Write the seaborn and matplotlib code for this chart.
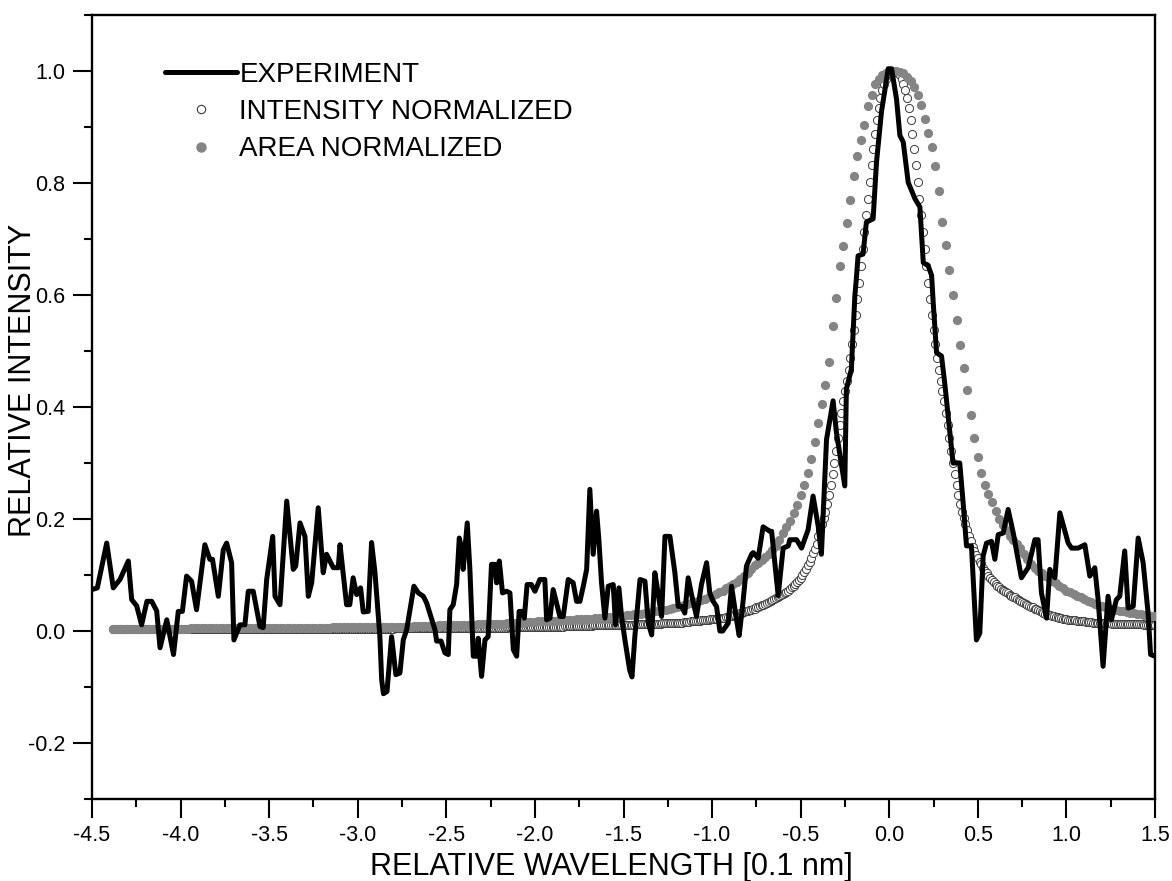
import numpy as np
import pandas as pd
import matplotlib
matplotlib.use("Agg")
import matplotlib.pyplot as plt
import seaborn as sns
from matplotlib.lines import Line2D
from matplotlib.ticker import MultipleLocator, FormatStrFormatter

# ---------------- data ----------------
EXP_X = [-4.50, -4.47, -4.417, -4.38, -4.342, -4.295, -4.276, -4.248, -4.22, -4.19,
         -4.163, -4.135, -4.116, -4.078, -4.04, -4.013, -3.99, -3.966, -3.938, -3.91,
         -3.863, -3.835, -3.82, -3.787, -3.759, -3.74, -3.712, -3.699, -3.665, -3.637,
         -3.618, -3.59, -3.552, -3.534, -3.514, -3.48, -3.467, -3.439, -3.401, -3.364,
         -3.35, -3.326, -3.298, -3.279, -3.26, -3.223, -3.195, -3.176, -3.138, -3.11,
         -3.10, -3.063, -3.045, -3.026, -3.006, -2.984, -2.969, -2.941, -2.922, -2.903,
         -2.875, -2.865, -2.855, -2.835, -2.809, -2.785, -2.762, -2.743, -2.724, -2.705,
         -2.683, -2.658, -2.63, -2.611, -2.564, -2.555, -2.53, -2.508, -2.489, -2.48,
         -2.461, -2.442, -2.427, -2.414, -2.405, -2.382, -2.367, -2.348, -2.33, -2.32,
         -2.301, -2.282, -2.264, -2.245, -2.226, -2.216, -2.201, -2.183, -2.16, -2.141,
         -2.122, -2.103, -2.089, -2.07, -2.06, -2.044, -2.02, -2.00, -1.972, -1.944,
         -1.934, -1.915, -1.897, -1.859, -1.84, -1.812, -1.784, -1.765, -1.746, -1.727,
         -1.708, -1.69, -1.671, -1.652, -1.639, -1.624, -1.605, -1.586, -1.558, -1.545,
         -1.526, -1.511, -1.49, -1.465, -1.452, -1.436, -1.407, -1.379, -1.36, -1.341,
         -1.323, -1.308, -1.285, -1.266, -1.238, -1.21, -1.191, -1.172, -1.154, -1.135,
         -1.116, -1.088, -1.06, -1.031, -1.013, -0.994, -0.975, -0.956, -0.94, -0.909,
         -0.89, -0.862, -0.847, -0.824, -0.806, -0.777, -0.768, -0.74, -0.712, -0.674,
         -0.664, -0.627, -0.599, -0.57, -0.561, -0.523, -0.495, -0.458, -0.43, -0.401,
         -0.383, -0.354, -0.317, -0.298, -0.251, -0.242, -0.214, -0.194, -0.186, -0.176,
         -0.148, -0.129, -0.091, -0.072, -0.044, -0.006, 0.013, 0.041, 0.06, 0.079,
         0.107, 0.145, 0.173, 0.192, 0.22, 0.239, 0.248, 0.267, 0.295, 0.314,
         0.36, 0.398, 0.417, 0.436, 0.464, 0.492, 0.511, 0.53, 0.549, 0.577,
         0.596, 0.615, 0.643, 0.671, 0.70, 0.746, 0.784, 0.822, 0.84, 0.859,
         0.888, 0.906, 0.935, 0.963, 1.01, 1.029, 1.066, 1.104, 1.132, 1.16,
         1.179, 1.207, 1.235, 1.254, 1.282, 1.301, 1.329, 1.348, 1.377, 1.405,
         1.433, 1.461, 1.475, 1.50]
EXP_Y = [0.074, 0.077, 0.157, 0.077, 0.092, 0.125, 0.056, 0.045, 0.011, 0.053,
         0.053, 0.036, -0.030, 0.020, -0.042, 0.035, 0.035, 0.098, 0.089, 0.038,
         0.154, 0.128, 0.128, 0.062, 0.145, 0.157, 0.122, -0.016, 0.011, 0.011,
         0.071, 0.071, 0.008, 0.006, 0.092, 0.169, 0.062, 0.047, 0.232, 0.110,
         0.116, 0.193, 0.169, 0.062, 0.086, 0.220, 0.104, 0.137, 0.113, 0.113,
         0.154, 0.047, 0.047, 0.095, 0.065, 0.077, 0.034, 0.035, 0.158, 0.105,
         -0.010, -0.087, -0.112, -0.108, -0.010, -0.078, -0.075, -0.016, 0.002, 0.038,
         0.080, 0.068, 0.062, 0.050, 0.002, -0.018, -0.018, -0.039, -0.042, 0.038,
         0.047, 0.083, 0.166, 0.148, 0.110, 0.193, 0.110, -0.045, -0.045, -0.013,
         -0.081, -0.016, -0.010, 0.119, 0.119, 0.086, 0.125, 0.068, 0.071, 0.068,
         -0.033, -0.045, 0.035, 0.035, 0.023, 0.083, 0.083, 0.071, 0.092, 0.092,
         0.020, 0.023, 0.074, 0.026, 0.026, 0.092, 0.086, 0.053, 0.053, 0.080,
         0.110, 0.253, 0.137, 0.214, 0.163, 0.086, 0.023, 0.080, 0.083, 0.011,
         0.077, 0.026, -0.020, -0.070, -0.082, -0.010, 0.092, 0.089, 0.014, -0.007,
         0.104, 0.074, 0.026, 0.169, 0.169, 0.104, 0.044, 0.044, 0.032, 0.095,
         0.065, 0.026, 0.083, 0.122, 0.068, 0.053, 0.044, 0.000, 0.000, 0.014,
         0.080, 0.020, -0.008, 0.056, 0.116, 0.137, 0.140, 0.130, 0.186, 0.178,
         0.178, 0.063, 0.148, 0.152, 0.163, 0.163, 0.148, 0.181, 0.241, 0.187,
         0.137, 0.342, 0.411, 0.354, 0.259, 0.432, 0.467, 0.599, 0.628, 0.670,
         0.673, 0.730, 0.736, 0.837, 0.927, 1.004, 1.004, 0.950, 0.885, 0.873,
         0.801, 0.772, 0.757, 0.658, 0.652, 0.635, 0.587, 0.497, 0.491, 0.440,
         0.300, 0.300, 0.229, 0.152, 0.152, -0.016, -0.004, 0.134, 0.157, 0.160,
         0.128, 0.172, 0.175, 0.217, 0.175, 0.095, 0.113, 0.163, 0.163, 0.068,
         0.023, 0.110, 0.095, 0.211, 0.157, 0.148, 0.148, 0.154, 0.098, 0.113,
         0.056, -0.063, 0.062, 0.020, 0.056, 0.062, 0.143, 0.041, 0.044, 0.166,
         0.122, 0.032, -0.042, -0.045]

# "INTENSITY NORMALIZED" profile (open circles), sampled every 0.01
INT_Y_LEFT = ([0.003] * 64 + [0.004] * 95 + [0.005] * 38 + [0.006] * 26 +
              [0.007] * 20 + [0.008] * 12 + [0.009] * 16 + [0.010] * 14 +
              [0.011] * 10 + [0.012] * 8 + [0.013] * 7 + [0.014] * 7 +
              [0.015] * 5 + [0.016] * 4 + [0.017] * 3 + [0.018] * 3 +
              [0.019] * 2 + [0.020] * 3 + [0.021] * 3 + [0.022] * 2 +
              [0.023] * 2 + [0.024] * 2 + [0.025] * 2 +
              [0.026, 0.027, 0.028, 0.029, 0.030, 0.031, 0.032, 0.033, 0.034, 0.035,
               0.036, 0.037, 0.038, 0.039, 0.040, 0.042, 0.043, 0.044, 0.046, 0.047,
               0.049, 0.050, 0.052, 0.053, 0.055, 0.057, 0.059, 0.061, 0.062, 0.064])
INT_Y_CORE = [
    0.066, 0.068, 0.070, 0.072, 0.075, 0.078, 0.081, 0.084, 0.087, 0.091,
    0.095, 0.100, 0.105, 0.111, 0.117, 0.124, 0.131, 0.139, 0.147, 0.156,
    0.170, 0.180, 0.191, 0.201, 0.212, 0.226, 0.242, 0.260, 0.280, 0.300,
    0.322, 0.345, 0.368, 0.390, 0.410, 0.428, 0.446, 0.466, 0.488, 0.512,
    0.538, 0.564, 0.592, 0.622, 0.652, 0.682, 0.712, 0.742, 0.772, 0.802,
    0.832, 0.860, 0.887, 0.912, 0.934, 0.952, 0.966, 0.977, 0.986, 0.992,
    0.996, 0.999, 1.000, 1.000, 0.999, 0.996, 0.992, 0.986, 0.977, 0.966,
    0.952, 0.934, 0.912, 0.887, 0.860, 0.832, 0.802, 0.772, 0.742, 0.712,
    0.682, 0.652, 0.622, 0.592, 0.564, 0.538, 0.512, 0.488, 0.466, 0.446,
    0.428, 0.410, 0.390, 0.368, 0.345, 0.322, 0.300, 0.280, 0.260, 0.242,
    0.226, 0.212, 0.201, 0.191, 0.180, 0.170, 0.160, 0.150, 0.143, 0.136,
    0.130, 0.124, 0.119, 0.113, 0.108, 0.103, 0.099, 0.095, 0.091, 0.088,
    0.084, 0.081, 0.078, 0.075, 0.073, 0.071, 0.069, 0.067, 0.065, 0.063,
    0.061]
INT_Y_RIGHT = ([0.060, 0.058, 0.056, 0.054, 0.052, 0.050, 0.048, 0.046, 0.045, 0.043,
                0.042, 0.040, 0.039, 0.037, 0.036, 0.034, 0.033, 0.031, 0.030, 0.029,
                0.028, 0.027, 0.026, 0.025, 0.025, 0.024, 0.023, 0.022, 0.022, 0.021] +
               [0.020] * 3 + [0.019] * 2 + [0.018] * 2 + [0.017] * 3 + [0.016] * 4 +
               [0.015] * 4 + [0.014] * 7 + [0.013] * 8 + [0.012] * 10 + [0.011] * 7)

# "AREA NORMALIZED" profile (filled grey circles)
AREA_Y_LEFT = ([0.004] * 22 + [0.005] * 27 + [0.006] * 13 + [0.007] * 13 +
               [0.008] * 10 + [0.009] * 7 + [0.010] * 6 + [0.011] * 5 +
               [0.012] * 4 + [0.013] * 4 + [0.014] * 3 + [0.015] * 3 +
               [0.016] * 3 + [0.017] * 3 + [0.018] * 3 + [0.019] * 2 +
               [0.020] * 3 + [0.021] * 3 + [0.022] * 2 + [0.023] * 2 +
               [0.024] * 2 + [0.025] * 2 +
               [0.026, 0.027, 0.027, 0.028, 0.029, 0.030, 0.031, 0.031, 0.032, 0.033,
                0.034, 0.035, 0.036, 0.037, 0.038, 0.040, 0.041, 0.043, 0.044, 0.046,
                0.048, 0.050, 0.052, 0.054, 0.056, 0.058, 0.060])
AREA_Y_CORE = [
    0.063, 0.066, 0.069, 0.072, 0.076, 0.080, 0.084, 0.088, 0.093, 0.098,
    0.104, 0.110, 0.117, 0.121, 0.126, 0.132, 0.138, 0.145, 0.152, 0.163,
    0.175, 0.186, 0.197, 0.210, 0.225, 0.242, 0.260, 0.282, 0.308, 0.338,
    0.372, 0.405, 0.440, 0.480, 0.545, 0.595, 0.652, 0.687, 0.728, 0.770,
    0.812, 0.848, 0.876, 0.903, 0.937, 0.958, 0.976, 0.985, 0.992, 0.997,
    0.999, 1.000, 1.000, 0.999, 0.996, 0.990, 0.983, 0.972, 0.958, 0.940,
    0.915, 0.890, 0.865, 0.830, 0.785, 0.730, 0.690, 0.645, 0.600, 0.555,
    0.510, 0.470, 0.430, 0.385, 0.345, 0.310, 0.283, 0.260, 0.245, 0.230,
    0.215, 0.200, 0.190, 0.180, 0.170, 0.162]
AREA_Y_RIGHT = [
    0.155, 0.148, 0.137, 0.128, 0.120, 0.113, 0.108, 0.103, 0.098, 0.094,
    0.089, 0.085, 0.080, 0.076, 0.072, 0.069, 0.066, 0.063, 0.060, 0.057,
    0.054, 0.051, 0.048, 0.046, 0.044, 0.042, 0.040, 0.039, 0.037, 0.036,
    0.035, 0.034, 0.033, 0.032, 0.031, 0.030, 0.029, 0.028, 0.027, 0.026]

LABELS = ["EXPERIMENT", "INTENSITY NORMALIZED", "AREA NORMALIZED"]
X_TICKS = [-4.5, -4.0, -3.5, -3.0, -2.5, -2.0, -1.5, -1.0, -0.5, 0.0, 0.5, 1.0, 1.5]
Y_TICKS = [-0.2, 0.0, 0.2, 0.4, 0.6, 0.8, 1.0]

# sample positions of the two model profiles (uniform instrument grid)
int_x = np.concatenate([np.linspace(-4.38, -0.61, len(INT_Y_LEFT)),
                        np.linspace(-0.60, 0.70, len(INT_Y_CORE)),
                        np.linspace(0.71, 1.50, len(INT_Y_RIGHT))])
int_y = np.array(INT_Y_LEFT + INT_Y_CORE + INT_Y_RIGHT)
area_x = np.concatenate([np.linspace(-4.38, -1.02, len(AREA_Y_LEFT)),
                         np.linspace(-1.00, 0.70, len(AREA_Y_CORE)),
                         np.linspace(0.72, 1.50, len(AREA_Y_RIGHT))])
area_y = np.array(AREA_Y_LEFT + AREA_Y_CORE + AREA_Y_RIGHT)

# ---------------- style ----------------
sns.set_theme(style="ticks", rc={
    "axes.edgecolor": "black", "text.color": "black", "axes.labelcolor": "black",
    "xtick.color": "black", "ytick.color": "black",
})
plt.rcParams["font.family"] = ["Liberation Sans", "DejaVu Sans"]

W, H = 1172, 881
fig = plt.figure(figsize=(W / 100, H / 100), dpi=100)
L, R, T, B = 92, 1155, 15, 799
ax = fig.add_axes([L / W, 1 - B / H, (R - L) / W, (B - T) / H])

sns.scatterplot(x=int_x, y=int_y, ax=ax, color="white", edgecolor="#3c3c3c",
                s=34, linewidth=0.7, zorder=2)
sns.scatterplot(x=area_x, y=area_y, ax=ax, color="#848484", s=44,
                linewidth=0, zorder=3)
sns.lineplot(x=EXP_X, y=EXP_Y, ax=ax, sort=False, estimator=None,
             color="black", lw=3.6, zorder=4)

ax.set_xlim(-4.5, 1.5)
ax.set_ylim(-0.3, 1.1)
ax.set_xticks(X_TICKS)
ax.set_yticks(Y_TICKS)
ax.xaxis.set_minor_locator(MultipleLocator(0.25))
ax.yaxis.set_minor_locator(MultipleLocator(0.1))
ax.xaxis.set_major_formatter(FormatStrFormatter("%.1f"))
ax.yaxis.set_major_formatter(FormatStrFormatter("%.1f"))
ax.tick_params(which="major", length=14, width=1.5, direction="out",
               labelsize=15.5, top=False, right=False)
ax.tick_params(axis="x", which="major", pad=5)
ax.tick_params(axis="y", which="major", pad=5)
ax.tick_params(which="minor", length=6, width=1.5, direction="out",
               top=False, right=False)
for sp in ax.spines.values():
    sp.set_visible(True)
    sp.set_linewidth(1.7)
    sp.set_color("black")

ax.set_xlabel("RELATIVE WAVELENGTH [0.1 nm]", fontsize=22)
ax.set_ylabel("RELATIVE INTENSITY", fontsize=22)
ax.xaxis.set_label_coords(0.489, -0.067)
ax.yaxis.set_label_coords(-0.051, 0.534)

handles = [
    Line2D([], [], color="black", lw=3.6),
    Line2D([], [], ls="", marker="o", ms=6, mfc="white", mec="#3c3c3c", mew=0.8),
    Line2D([], [], ls="", marker="o", ms=6.5, mfc="#848484", mec="#848484"),
]
ax.legend(handles, LABELS, loc="upper left", bbox_to_anchor=(0.0687, 0.940),
          frameon=False, fontsize=20, handlelength=2.6, handletextpad=0.08,
          labelspacing=0.4, borderpad=0, borderaxespad=0)

fig.savefig("out.png", dpi=100)
